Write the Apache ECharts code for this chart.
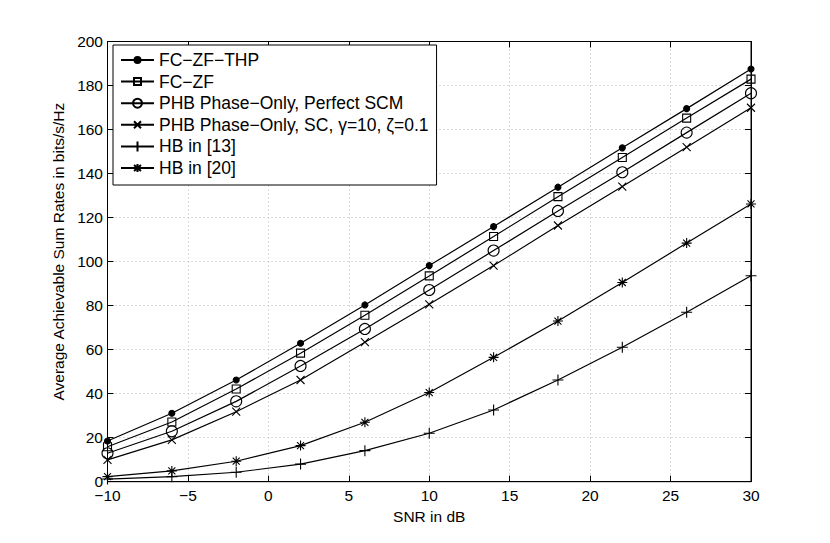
<!DOCTYPE html>
<html lang="en">
<head>
    <meta charset="utf-8">
    <title>Sum rate vs SNR</title>
    <script src="https://cdn.jsdelivr.net/npm/echarts@6/dist/echarts.min.js"></script>
    <style>
        html, body { margin: 0; padding: 0; background: #fff; }
        #main { width: 830px; height: 543px; }
    </style>
</head>
<body>
    <div id="main"></div>
    <script type="text/javascript">
        // SNR points (dB)
        var snr = [-10, -6, -2, 2, 6, 10, 14, 18, 22, 26, 30];
        // rates, bits/s/Hz
        var fcZfThp    = [18.5, 31.1, 46.2, 62.9, 80.3, 98.2, 115.9, 133.8, 151.7, 169.5, 187.5];
        var fcZf       = [15.9, 27.1, 42.1, 58.4, 75.6, 93.5, 111.4, 129.5, 147.3, 165.2, 182.9];
        var phbPerfect = [12.9, 22.9, 36.5, 52.6, 69.4, 87.1, 105.0, 123.0, 140.6, 158.6, 176.5];
        var phbSc      = [9.9, 19.0, 31.8, 46.2, 63.4, 80.6, 98.2, 116.4, 134.1, 152.0, 169.9];
        var hb13       = [1.2, 2.3, 4.3, 8.0, 14.1, 22.0, 32.6, 46.2, 61.1, 77.0, 93.6];
        var hb20       = [2.3, 4.9, 9.3, 16.4, 27.0, 40.5, 56.5, 73.0, 90.5, 108.4, 126.2];

        var names = [
            'FC\u2212ZF\u2212THP',
            'FC\u2212ZF',
            'PHB Phase\u2212Only, Perfect SCM',
            'PHB Phase\u2212Only, SC, \u03b3=10, \u03b6=0.1',
            'HB in [13]',
            'HB in [20]'
        ];

        var FONT = 'Liberation Sans, Arial, Helvetica, sans-serif';

        function pairs(ys) {
            var out = [];
            for (var i = 0; i < snr.length; i++) out.push([snr[i], ys[i]]);
            return out;
        }

        // legend icon = 33x12 box with a line through and the marker in the middle
        var ICON = 'path://M0,0M33,12M0,6L33,6';
        // marker shapes (MATLAB style)
        var markers = [
            { symbol: 'circle', size: 6, fill: '#000',
              icon: ICON + 'M19.5,6A3,3,0,1,1,13.5,6A3,3,0,1,1,19.5,6Z' },
            { symbol: 'rect', size: 8, fill: 'rgba(0,0,0,0)',
              icon: ICON + 'M13,2.5L20,2.5L20,9.5L13,9.5Z' },
            { symbol: 'circle', size: 11, fill: 'rgba(0,0,0,0)',
              icon: ICON + 'M21,6A4.5,4.5,0,1,1,12,6A4.5,4.5,0,1,1,21,6Z' },
            { symbol: 'path://M0,0L10,10M10,0L0,10', size: 8, fill: 'rgba(0,0,0,0)',
              icon: ICON + 'M13,2.5L20,9.5M20,2.5L13,9.5' },
            { symbol: 'path://M5,0L5,10M0,5L10,5', size: 11, fill: 'rgba(0,0,0,0)',
              icon: ICON + 'M16.5,1L16.5,11' },
            { symbol: 'path://M5,0L5,10M0,5L10,5M1.5,1.5L8.5,8.5M8.5,1.5L1.5,8.5', size: 10, fill: 'rgba(0,0,0,0)',
              icon: ICON + 'M16.5,2L16.5,10M13,3L20,9M20,3L13,9' }
        ];
        var dataSets = [fcZfThp, fcZf, phbPerfect, phbSc, hb13, hb20];

        var series = [];
        var legendData = [];
        for (var k = 0; k < dataSets.length; k++) {
            series.push({
                name: names[k],
                type: 'line',
                data: pairs(dataSets[k]),
                symbol: markers[k].symbol,
                symbolSize: markers[k].size,
                showAllSymbol: true,
                lineStyle: { color: '#000', width: 1.2 },
                itemStyle: { color: markers[k].fill, borderColor: '#000', borderWidth: 1.1 },
                emphasis: { disabled: true },
                animation: false,
                z: 3
            });
            legendData.push({ name: names[k], icon: markers[k].icon });
        }

        var gridLine = { show: true, lineStyle: { color: '#b5b5b5', type: [1, 3], width: 1 } };
        var boxLine = { show: true, onZero: false, lineStyle: { color: '#000', width: 1 } };
        var inTick = { show: true, inside: true, length: 6, lineStyle: { color: '#000' } };

        var myChart = echarts.init(document.getElementById('main'), null, { renderer: 'svg' });
        myChart.setOption({
            backgroundColor: '#fff',
            animation: false,
            textStyle: { fontFamily: FONT },
            grid: {
                left: 107.5, right: 79, top: 41.5, bottom: 61.3,
                show: true, borderColor: '#000', borderWidth: 1, backgroundColor: 'transparent'
            },
            legend: {
                data: legendData,
                orient: 'vertical',
                left: 113,
                top: 45,
                padding: [6, 8, 8, 7],
                itemWidth: 33,
                itemHeight: 12,
                itemGap: 3.6,
                backgroundColor: '#fff',
                borderColor: '#000',
                borderWidth: 1,
                borderRadius: 0,
                selectedMode: false,
                textStyle: { fontFamily: FONT, fontSize: 17.5, color: '#000', lineHeight: 18 }
            },
            xAxis: [{
                type: 'value',
                min: -10, max: 30, interval: 5,
                name: 'SNR in dB',
                nameLocation: 'middle',
                nameGap: 21,
                nameTextStyle: { fontFamily: FONT, fontSize: 15.5, color: '#000' },
                axisLine: boxLine,
                axisTick: inTick,
                axisLabel: {
                    fontFamily: FONT, fontSize: 15.5, color: '#000', margin: 6,
                    formatter: function (v) { return String(v).replace('-', '\u2212'); }
                },
                splitLine: gridLine
            }, {
                type: 'value',
                position: 'top',
                min: -10, max: 30, interval: 5,
                axisLine: boxLine,
                axisTick: inTick,
                axisLabel: { show: false },
                splitLine: { show: false }
            }],
            yAxis: [{
                type: 'value',
                min: 0, max: 200, interval: 20,
                name: 'Average Achievable Sum Rates in bits/s/Hz',
                nameLocation: 'middle',
                nameGap: 36,
                nameTextStyle: { fontFamily: FONT, fontSize: 15.5, color: '#000', padding: [0, 0, 0, 20] },
                axisLine: boxLine,
                axisTick: inTick,
                axisLabel: { fontFamily: FONT, fontSize: 15.5, color: '#000', margin: 4.5 },
                splitLine: gridLine
            }, {
                type: 'value',
                position: 'right',
                min: 0, max: 200, interval: 20,
                axisLine: boxLine,
                axisTick: inTick,
                axisLabel: { show: false },
                splitLine: { show: false }
            }],
            series: series
        });
    </script>
</body>
</html>
